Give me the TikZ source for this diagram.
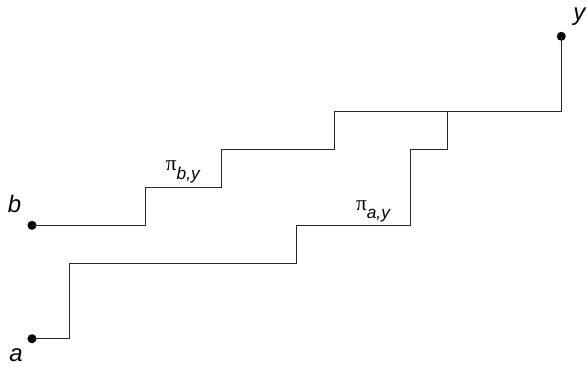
\documentclass[tikz,border=0pt]{standalone}
\usepackage{fontspec}
\setmainfont{Liberation Sans}
\newfontfamily\pifont{Liberation Serif}
\begin{document}
\begin{tikzpicture}[x=1cm,y=1cm,
  dotnode/.style={circle,fill=black,inner sep=0pt,minimum size=0.24cm},
  pathline/.style={line width=0.7pt,draw=black!85},
  letterlab/.style={inner sep=0pt,font=\fontsize{18}{20}\selectfont\itshape},
  pilab/.style={inner sep=0pt}]
\useasboundingbox (-0.847,-0.722) rectangle (14.68,8.96);
\newcommand{\pisub}[1]{{\pifont\fontsize{16}{18}\selectfont π}\raisebox{-6.5pt}{\fontsize{13}{15}\selectfont\itshape #1}}
% dots
\node[dotnode] (a) at (0,0) {};
\node[dotnode] (b) at (0,3) {};
\node[dotnode] (y) at (14,8) {};
\coordinate (j) at (11,6);
% paths
\draw[pathline] (b.center) -- (3,3) -- (3,4) -- (5,4) -- (5,5) -- (8,5) -- (8,6) -- (j) -- (14,6) -- (y.center);
\draw[pathline] (a.center) -- (1,0) -- (1,2) -- (7,2) -- (7,3) -- (10,3) -- (10,5) -- (11,5) -- (j);
% labels
\node[letterlab] (la) at (-0.42,-0.43) {a};
\node[letterlab] (lb) at (-0.46,3.56) {b};
\node[letterlab] (ly) at (14.48,8.52) {y};
\node[pilab] (pb) at (3.99,4.42) {\pisub{b,y}};
\node[pilab] (pa) at (9.02,3.37) {\pisub{a,y}};
\end{tikzpicture}
\end{document}
